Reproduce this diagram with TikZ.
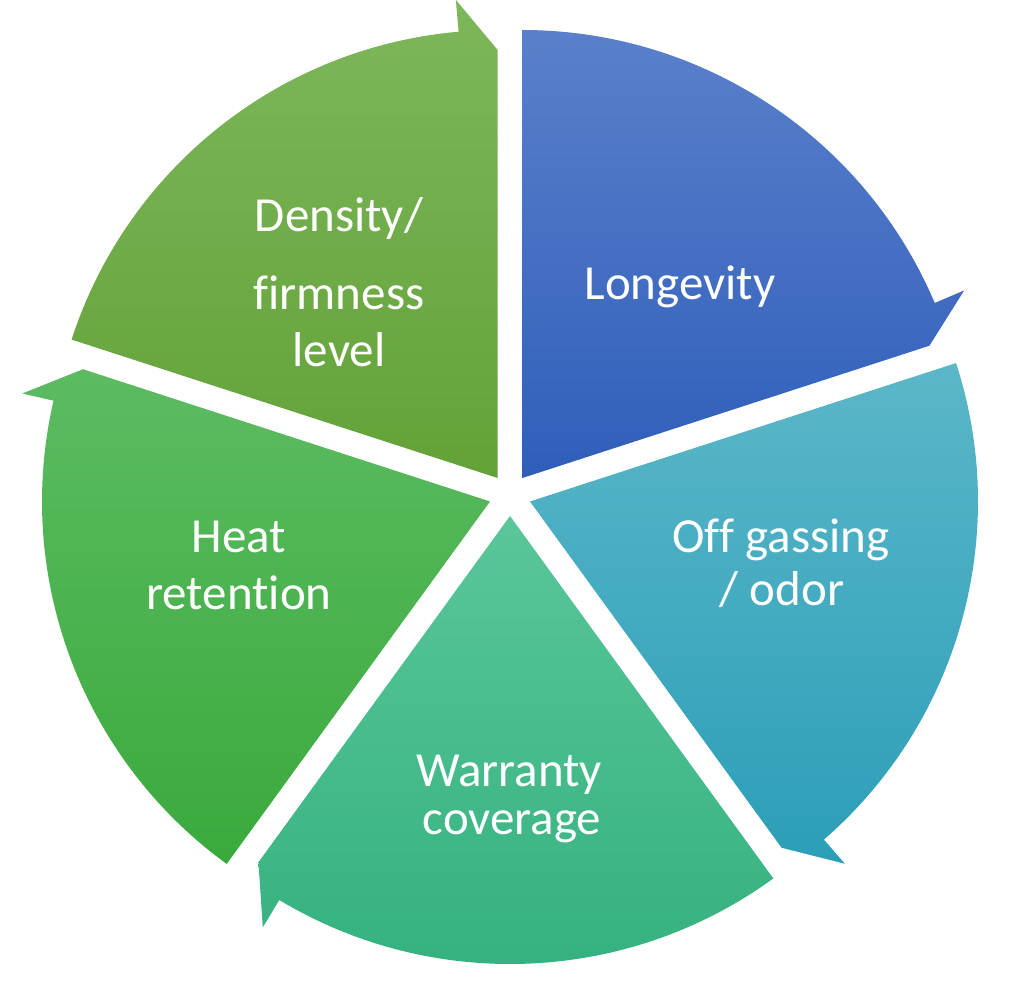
\documentclass[tikz,border=0pt]{standalone}
\usepackage{fontspec}
\setmainfont[Ligatures=NoCommon]{Carlito}
\definecolor{olT}{HTML}{7DB75B}
\definecolor{olB}{HTML}{63A238}
\definecolor{blT}{HTML}{5A80CB}
\definecolor{blB}{HTML}{2F5EBA}
\definecolor{tlT}{HTML}{5BB7C8}
\definecolor{tlB}{HTML}{2C9EB8}
\definecolor{wrT}{HTML}{5AC69A}
\definecolor{wrB}{HTML}{33B07E}
\definecolor{htT}{HTML}{5CBB62}
\definecolor{htB}{HTML}{3AAA3C}
\newcommand\cycseg[3]{%
  \pgfmathsetmacro\angA{#1}%
  \pgfmathsetmacro\angB{#1-72}%
  \pgfmathsetmacro\angM{#1-36}%
  \begin{scope}[shift={(\angM:21)}]
    \shade[top color=#2,bottom color=#3]
      (0,0) -- (\angA:448)
      arc[start angle=\angA,end angle=\angB+5,radius=448]
      -- (\angB+5:480) -- (\angB:428) -- cycle;
  \end{scope}}
\tikzset{lbl/.style={anchor=base,text=white,inner sep=0pt,font=\fontsize{49}{58}\selectfont}}
\begin{document}
\begin{tikzpicture}[x=1pt,y=1pt]
\useasboundingbox (0,0) rectangle (1024,995);
\begin{scope}[shift={(510,500)}]
  \cycseg{162}{olT}{olB}
  \cycseg{90}{blT}{blB}
  \cycseg{18}{tlT}{tlB}
  \cycseg{-54}{wrT}{wrB}
  \cycseg{234}{htT}{htB}
\end{scope}
\node[lbl] (dens1) at (339,763) {Density/};
\node[lbl] (dens2) at (339,685) {firmness};
\node[lbl] (dens3) at (339,628) {level};
\node[lbl] (long) at (680,695) {Longevity};
\node[lbl] (off1) at (781,442) {Off gassing};
\node[lbl] (off2) at (782,389) {/ odor};
\node[lbl] (war1) at (509,208) {Warranty};
\node[lbl] (war2) at (512,160) {coverage};
\node[lbl] (heat1) at (239,442) {Heat};
\node[lbl] (heat2) at (239,385) {retention};
\end{tikzpicture}
\end{document}
